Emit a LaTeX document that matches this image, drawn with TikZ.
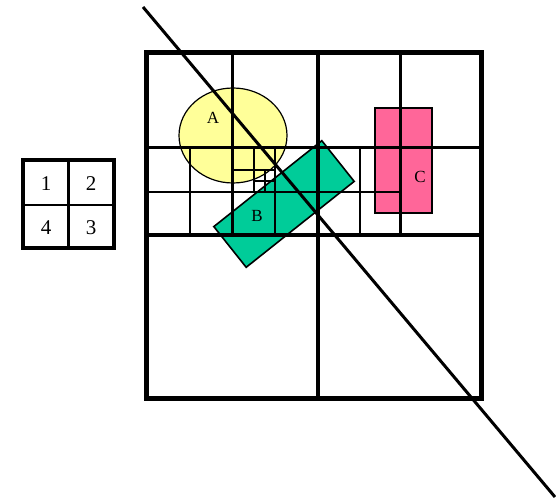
\documentclass[tikz,border=0pt]{standalone}
\usepackage{fontspec}
\setmainfont{Liberation Serif}
\usepackage{xcolor}
\usetikzlibrary{shapes.geometric}

\definecolor{ayellow}{HTML}{FFFF99}
\definecolor{bgreen}{HTML}{00CC99}
\definecolor{cpink}{HTML}{FF6699}

\begin{document}
\begin{tikzpicture}[
  x=1pt, y=-1pt,
  outer/.style={line width=5pt, draw=black},
  lvl/.style={line width=#1, draw=black},
  region/.style={draw=black, line width=1.2pt, fill=#1, inner sep=0pt},
  lab/.style={font=\fontsize{17}{19}\selectfont, inner sep=0pt},
  num/.style={font=\fontsize{21}{23}\selectfont, inner sep=0pt}
]
\useasboundingbox (0,0) rectangle (556,502);

% Regions A, B, C
\node[region=ayellow, ellipse, minimum width=108pt, minimum height=95pt] (A) at (233,135.5) {};
\node[region=bgreen, rectangle, minimum width=138pt, minimum height=52pt, rotate=38.5, line width=1.6pt] (B) at (284,204) {};
\node[region=cpink, rectangle, minimum width=57pt, minimum height=105pt] (C) at (403.5,160.5) {};

% Quadtree grid
\draw[lvl=3.4pt] (318,53) -- (318,398);
\draw[lvl=3.4pt] (146,235) -- (481,235);
\draw[lvl=3pt] (232,53) -- (232,235);
\draw[lvl=3pt] (400,53) -- (400,235);
\draw[lvl=3pt] (146,148) -- (481,148);
\draw[lvl=2.6pt] (190,148) -- (190,235);
\draw[lvl=2.6pt] (275,148) -- (275,235);
\draw[lvl=2.6pt] (360,148) -- (360,235);
\draw[lvl=2.6pt] (146,192) -- (400,192);
\draw[lvl=2.4pt] (254,148) -- (254,192);
\draw[lvl=2.4pt] (232,170) -- (275,170);
\draw[lvl=2pt] (264.5,170) -- (264.5,192);
\draw[lvl=2pt] (254,181) -- (275,181);
\draw[outer] (146,53) rectangle (481,398);

% Labels
\node[lab] (labA) at (213,118) {A};
\node[lab] (labB) at (257,216) {B};
\node[lab] (labC) at (420,177) {C};

% Query line
\coordinate (ls) at (143,7);
\coordinate (le) at (555,497);
\draw[line width=3pt] (ls) -- (le);

% Quadrant numbering
\draw[line width=3.5pt] (23,160) rectangle (114,248);
\draw[line width=2.5pt] (68.5,160) -- (68.5,248);
\draw[line width=2.5pt] (23,205) -- (114,205);
\node[num] (q1) at (46,184) {1};
\node[num] (q2) at (91,184) {2};
\node[num] (q4) at (46,228) {4};
\node[num] (q3) at (91,228) {3};

\end{tikzpicture}
\end{document}
